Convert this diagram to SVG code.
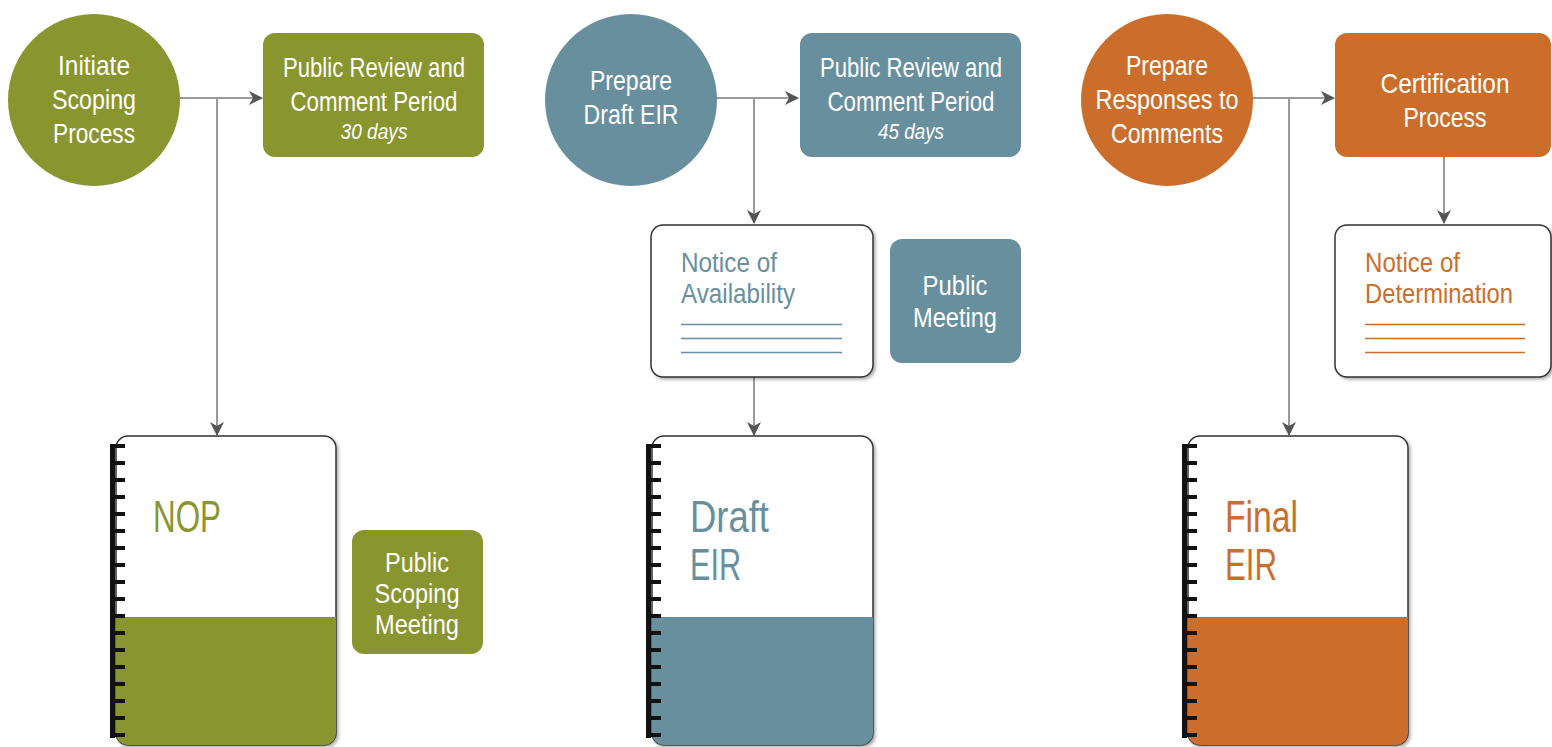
<svg xmlns="http://www.w3.org/2000/svg" width="1552" height="747" viewBox="0 0 1552 747">
  <defs>
    <marker id="arr" viewBox="0 0 14 14" refX="13" refY="7" markerWidth="14" markerHeight="14" markerUnits="userSpaceOnUse" orient="auto">
      <path d="M0,0 L14,7 L0,14 L4,7 Z" fill="#555"/>
    </marker>
    <filter id="sh" x="-5%" y="-5%" width="115%" height="115%">
      <feDropShadow dx="2" dy="2" stdDeviation="1.5" flood-color="#000" flood-opacity="0.3"/>
    </filter>
    <!-- spiral binding: spine with 18 ticks -->
    <g id="spine">
      <rect x="110" y="444" width="5" height="294" fill="#111"/>
      <path d="M112,446h13 M112,463h13 M112,480h13 M112,497h13 M112,514h13 M112,531h13 M112,548h13 M112,565h13 M112,582h13 M112,599h13 M112,616h13 M112,633h13 M112,650h13 M112,667h13 M112,684h13 M112,701h13 M112,718h13 M112,735h13" stroke="#111" stroke-width="4"/>
    </g>
  </defs>
  <style>
    text { font-family: "Liberation Sans Narrow", "Liberation Sans", Arial, sans-serif; }
    .w { fill: #fff; font-size: 27.5px; text-anchor: middle; }
    .it { fill: #fff; font-size: 22px; font-style: italic; text-anchor: middle; }
    .big { font-size: 45px; }
    .lbl { font-size: 27.5px; }
    .con { fill: none; stroke: #9a9a9a; stroke-width: 2; }
    .g { fill: #89952f; }
    .b { fill: #688f9e; }
    .o { fill: #cb6e2c; }
    .card { fill: #fff; stroke: #333; stroke-width: 1.5; }
  </style>
  <rect width="1552" height="747" fill="#fff"/>

  <!-- connectors -->
  <g id="connectors">
    <path class="con" d="M180,98 H262" marker-end="url(#arr)"/>
    <path class="con" d="M217,98 V435" marker-end="url(#arr)"/>
    <path class="con" d="M716,98 H798" marker-end="url(#arr)"/>
    <path class="con" d="M754,98 V223" marker-end="url(#arr)"/>
    <path class="con" d="M754,377 V435" marker-end="url(#arr)"/>
    <path class="con" d="M1252,98 H1334" marker-end="url(#arr)"/>
    <path class="con" d="M1289,98 V435" marker-end="url(#arr)"/>
    <path class="con" d="M1444,157 V223" marker-end="url(#arr)"/>
  </g>

  <!-- column 1: scoping -->
  <g id="initiate-scoping">
    <circle class="g" cx="94" cy="100" r="86"/>
    <text class="w" x="94" y="75" textLength="72" lengthAdjust="spacingAndGlyphs">Initiate</text>
    <text class="w" x="94" y="109" textLength="84" lengthAdjust="spacingAndGlyphs">Scoping</text>
    <text class="w" x="94" y="143" textLength="82" lengthAdjust="spacingAndGlyphs">Process</text>
  </g>
  <g id="review-30">
    <rect class="g" x="263" y="33" width="221" height="124" rx="12"/>
    <text class="w" x="374" y="77" textLength="182" lengthAdjust="spacingAndGlyphs">Public Review and</text>
    <text class="w" x="374" y="111" textLength="167" lengthAdjust="spacingAndGlyphs">Comment Period</text>
    <text class="it" x="374" y="139" textLength="67" lengthAdjust="spacingAndGlyphs">30 days</text>
  </g>
  <g id="nop">
    <path filter="url(#sh)" class="card" d="M128,436 H324 A12,12 0 0 1 336,448 V733 A12,12 0 0 1 324,745 H128 A12,12 0 0 1 116,733 V448 A12,12 0 0 1 128,436 Z"/>
    <path class="g" d="M116,617 H336 V733 A12,12 0 0 1 324,745 H128 A12,12 0 0 1 116,733 Z"/>
    <use href="#spine"/>
    <text class="big g" x="153" y="532" textLength="68" lengthAdjust="spacingAndGlyphs">NOP</text>
  </g>
  <g id="scoping-meeting">
    <rect class="g" x="352" y="530" width="131" height="124" rx="12"/>
    <text class="w" x="417" y="572" textLength="64" lengthAdjust="spacingAndGlyphs">Public</text>
    <text class="w" x="417" y="603" textLength="85" lengthAdjust="spacingAndGlyphs">Scoping</text>
    <text class="w" x="417" y="634" textLength="84" lengthAdjust="spacingAndGlyphs">Meeting</text>
  </g>

  <!-- column 2: draft EIR -->
  <g id="prepare-draft">
    <circle class="b" cx="631" cy="100" r="86"/>
    <text class="w" x="631" y="90" textLength="82" lengthAdjust="spacingAndGlyphs">Prepare</text>
    <text class="w" x="631" y="124" textLength="95" lengthAdjust="spacingAndGlyphs">Draft EIR</text>
  </g>
  <g id="review-45">
    <rect class="b" x="800" y="33" width="221" height="124" rx="12"/>
    <text class="w" x="911" y="77" textLength="182" lengthAdjust="spacingAndGlyphs">Public Review and</text>
    <text class="w" x="911" y="111" textLength="167" lengthAdjust="spacingAndGlyphs">Comment Period</text>
    <text class="it" x="911" y="139" textLength="66" lengthAdjust="spacingAndGlyphs">45 days</text>
  </g>
  <g id="noa">
    <rect filter="url(#sh)" class="card" x="651" y="225" width="222" height="152" rx="12"/>
    <text class="lbl b" x="681" y="272" textLength="96" lengthAdjust="spacingAndGlyphs">Notice of</text>
    <text class="lbl b" x="681" y="303" textLength="114" lengthAdjust="spacingAndGlyphs">Availability</text>
    <path d="M681,324.5 H842 M681,338.5 H842 M681,352.5 H842" stroke="#688f9e" stroke-width="1.5"/>
  </g>
  <g id="public-meeting">
    <rect class="b" x="890" y="239" width="131" height="124" rx="12"/>
    <text class="w" x="955" y="295" textLength="65" lengthAdjust="spacingAndGlyphs">Public</text>
    <text class="w" x="955" y="327" textLength="84" lengthAdjust="spacingAndGlyphs">Meeting</text>
  </g>
  <g id="draft-eir">
    <path filter="url(#sh)" class="card" d="M664,436 H861 A12,12 0 0 1 873,448 V733 A12,12 0 0 1 861,745 H664 A12,12 0 0 1 652,733 V448 A12,12 0 0 1 664,436 Z"/>
    <path class="b" d="M652,617 H873 V733 A12,12 0 0 1 861,745 H664 A12,12 0 0 1 652,733 Z"/>
    <use href="#spine" x="536"/>
    <text class="big b" x="690" y="532" textLength="79" lengthAdjust="spacingAndGlyphs">Draft</text>
    <text class="big b" x="690" y="580" textLength="51" lengthAdjust="spacingAndGlyphs">EIR</text>
  </g>

  <!-- column 3: final EIR -->
  <g id="prepare-responses">
    <circle class="o" cx="1167" cy="100" r="86"/>
    <text class="w" x="1167" y="75" textLength="82" lengthAdjust="spacingAndGlyphs">Prepare</text>
    <text class="w" x="1167" y="109" textLength="143" lengthAdjust="spacingAndGlyphs">Responses to</text>
    <text class="w" x="1167" y="143" textLength="112" lengthAdjust="spacingAndGlyphs">Comments</text>
  </g>
  <g id="certification">
    <rect class="o" x="1335" y="33" width="216" height="124" rx="12"/>
    <text class="w" x="1445" y="93" textLength="129" lengthAdjust="spacingAndGlyphs">Certification</text>
    <text class="w" x="1445" y="127" textLength="83" lengthAdjust="spacingAndGlyphs">Process</text>
  </g>
  <g id="nod">
    <rect filter="url(#sh)" class="card" x="1335" y="225" width="216" height="152" rx="12"/>
    <text class="lbl o" x="1365" y="272" textLength="95" lengthAdjust="spacingAndGlyphs">Notice of</text>
    <text class="lbl o" x="1365" y="303" textLength="148" lengthAdjust="spacingAndGlyphs">Determination</text>
    <path d="M1365,324.5 H1525 M1365,338.5 H1525 M1365,352.5 H1525" stroke="#cb6e2c" stroke-width="1.5"/>
  </g>
  <g id="final-eir">
    <path filter="url(#sh)" class="card" d="M1200,436 H1396 A12,12 0 0 1 1408,448 V733 A12,12 0 0 1 1396,745 H1200 A12,12 0 0 1 1188,733 V448 A12,12 0 0 1 1200,436 Z"/>
    <path class="o" d="M1188,617 H1408 V733 A12,12 0 0 1 1396,745 H1200 A12,12 0 0 1 1188,733 Z"/>
    <use href="#spine" x="1072"/>
    <text class="big o" x="1225" y="532" textLength="73" lengthAdjust="spacingAndGlyphs">Final</text>
    <text class="big o" x="1225" y="580" textLength="52" lengthAdjust="spacingAndGlyphs">EIR</text>
  </g>
</svg>
